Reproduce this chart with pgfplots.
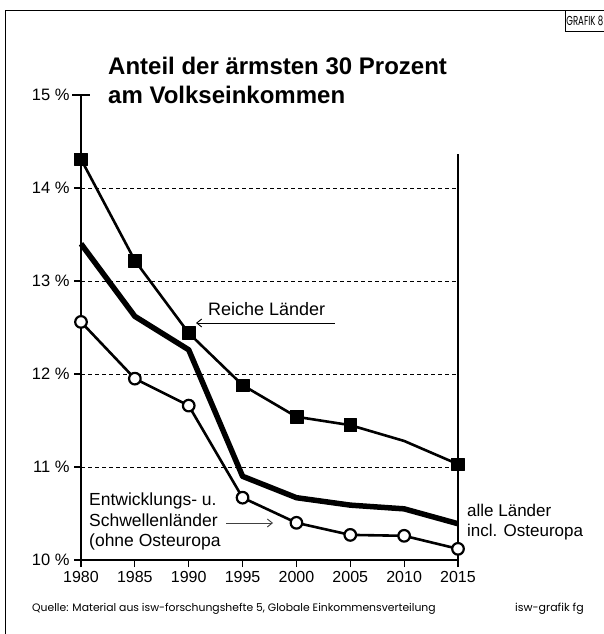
\documentclass[border=0pt]{standalone}
\usepackage{fontspec}
\setmainfont{Liberation Sans}
\newfontfamily\futura{Poppins}
\usepackage{pgfplots}
\pgfplotsset{compat=1.18}
\usetikzlibrary{arrows.meta}
\begin{document}
\begin{tikzpicture}[x=1pt,y=1pt]
\path[use as bounding box] (0,0) rectangle (604,634);
% frame
\draw[line width=1pt] (5,0) -- (5,623) -- (604,623);
\draw[line width=0.8pt] (565,603) -- (565,623);
\draw[line width=0.8pt] (565,603) -- (604,603);
\node[anchor=base east, inner sep=0] at (603.5,608) {\scalebox{0.66}[1]{\futura\fontsize{13}{13}\selectfont GRAFIK 8}};
% title
\node[anchor=base west, font=\bfseries\fontsize{24}{24}\selectfont, inner sep=0] at (108,559) {Anteil der ärmsten 30 Prozent};
\node[anchor=base west, font=\bfseries\fontsize{24}{24}\selectfont, inner sep=0] at (108,530) {am Volkseinkommen};
\begin{axis}[
  at={(81pt,74pt)}, anchor=south west,
  scale only axis, width=377pt, height=465pt,
  xmin=1980, xmax=2015, ymin=10, ymax=15,
  axis lines*=left,
  axis line style={line width=1.6pt},
  xtick={1980,1985,1990,1995,2000,2005,2010,2015},
  ytick={10,11,12,13,14,15},
  yticklabels={10 \%,11 \%,12 \%,13 \%,14 \%,15 \%},
  x tick label style={/pgf/number format/1000 sep={}, font=\fontsize{16}{16}\selectfont, yshift=-1pt},
  /pgf/number format/assume math mode=true,
  y tick label style={font=\fontsize{16.5}{16.5}\selectfont, xshift=-1pt},
  tick align=outside, major tick length=7pt,
  every tick/.style={line width=1.2pt, black},
  extra y ticks={15}, extra y tick labels={},
  extra y tick style={tick align=center, major tick length=18pt},
  clip=false,
]
\draw[dashed, line width=0.8pt, dash pattern=on 4pt off 3pt] (axis cs:1980,11) -- (axis cs:2015,11);
\draw[dashed, line width=0.8pt, dash pattern=on 4pt off 3pt] (axis cs:1980,12) -- (axis cs:2015,12);
\draw[dashed, line width=0.8pt, dash pattern=on 4pt off 3pt] (axis cs:1980,13) -- (axis cs:2015,13);
\draw[dashed, line width=0.8pt, dash pattern=on 4pt off 3pt] (axis cs:1980,14) -- (axis cs:2015,14);
\draw[line width=1.6pt] (axis cs:2015,10) -- (axis cs:2015,14.37);
% alle Laender
\addplot[black, line width=5.5pt, line join=round, no markers] coordinates {
(1980,13.40)(1985,12.62)(1990,12.26)(1995,10.90)(2000,10.67)(2005,10.59)(2010,10.55)(2015,10.39)};
% Reiche Laender
\addplot[black, line width=2.6pt, line join=round, mark=square*, mark size=6.4pt,
  mark indices={1,2,3,4,5,6,8}, mark options={solid, fill=black, line width=0.5pt}] coordinates {
(1980,14.31)(1985,13.22)(1990,12.44)(1995,11.88)(2000,11.54)(2005,11.45)(2010,11.28)(2015,11.03)};
% Entwicklungs- u. Schwellenlaender
\addplot[black, line width=2.6pt, line join=round, mark=*, mark size=5.8pt,
  mark options={solid, fill=white, line width=2.2pt}] coordinates {
(1980,12.56)(1985,11.95)(1990,11.66)(1995,10.67)(2000,10.40)(2005,10.27)(2010,10.26)(2015,10.12)};
\end{axis}
% annotations
\node[anchor=base west, font=\fontsize{18}{18}\selectfont, inner sep=0] at (208,318) {Reiche Länder};
\draw[line width=0.9pt, {Straight Barb[length=5pt,width=8pt]}-] (196,311) -- (335,311);
\node[anchor=base west, font=\fontsize{17.5}{18}\selectfont, inner sep=0] at (89,128) {Entwicklungs- u.};
\node[anchor=base west, font=\fontsize{17.5}{18}\selectfont, inner sep=0] at (89,107) {Schwellenländer};
\node[anchor=base west, font=\fontsize{17.5}{18}\selectfont, inner sep=0] at (89,87) {(ohne Osteuropa};
\draw[line width=0.9pt, black!75, -{Straight Barb[length=5pt,width=8pt]}] (226,111) -- (273,111);
\node[anchor=base west, font=\fontsize{17}{17}\selectfont, inner sep=0] at (467,117) {alle Länder};
\node[anchor=base west, font=\fontsize{17}{17}\selectfont, inner sep=0] at (467,97) {incl. Osteuropa};
% footer
\node[anchor=base west, font=\futura\fontsize{10.8}{11}\selectfont, inner sep=0] at (32,23) {Quelle: Material aus isw-forschungshefte 5, Globale Einkommensverteilung};
\node[anchor=base west, font=\futura\fontsize{11}{11}\selectfont, inner sep=0] at (515,23) {isw-grafik fg};
\end{tikzpicture}
\end{document}
